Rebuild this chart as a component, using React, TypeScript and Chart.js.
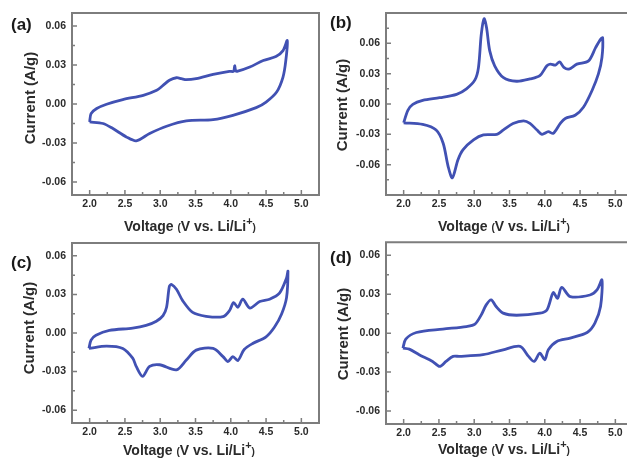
import React, { useEffect, useRef } from "react";
import { Chart, registerables } from "chart.js";

Chart.register(...registerables);

// ---------- data ----------
const xTicks = [2.0, 2.5, 3.0, 3.5, 4.0, 4.5, 5.0];
const yTicks = [-0.06, -0.03, 0.0, 0.03, 0.06];

const aVoltage = [2.0, 2.02, 2.1, 2.24, 2.47, 2.76, 2.95, 3.04, 3.13, 3.23, 3.3, 3.37, 3.51, 3.75, 3.98, 4.04, 4.055, 4.07, 4.1, 4.27, 4.46, 4.64, 4.74, 4.8, 4.78, 4.74, 4.65, 4.5, 4.36, 4.03, 3.75, 3.37, 3.09, 2.85, 2.66, 2.52, 2.33, 2.19, 2.0];
const aCurrent = [-0.0138, -0.0074, -0.0035, -0.0002, 0.0034, 0.0067, 0.0105, 0.0143, 0.0182, 0.0202, 0.0195, 0.0187, 0.0195, 0.0228, 0.0251, 0.0252, 0.0294, 0.0256, 0.0253, 0.0284, 0.0335, 0.0365, 0.0411, 0.0488, 0.0335, 0.0207, 0.0092, 0.0015, -0.0028, -0.0087, -0.012, -0.013, -0.0171, -0.0227, -0.0283, -0.0253, -0.0189, -0.015, -0.0138];

const bVoltage = [2.0, 2.06, 2.13, 2.27, 2.51, 2.75, 2.89, 3.01, 3.06, 3.1, 3.14, 3.175, 3.22, 3.29, 3.41, 3.6, 3.79, 3.93, 4.03, 4.08, 4.15, 4.21, 4.27, 4.34, 4.455, 4.62, 4.72, 4.79, 4.82, 4.81, 4.76, 4.67, 4.55, 4.43, 4.29, 4.22, 4.12, 4.05, 3.96, 3.89, 3.79, 3.7, 3.55, 3.41, 3.32, 3.13, 2.99, 2.84, 2.77, 2.69, 2.63, 2.56, 2.46, 2.27, 2.0];
const bCurrent = [-0.0186, -0.0062, -0.0003, 0.0036, 0.0062, 0.0095, 0.015, 0.0238, 0.036, 0.0688, 0.0844, 0.0753, 0.0525, 0.0378, 0.0264, 0.0225, 0.0248, 0.028, 0.0378, 0.0394, 0.0385, 0.0417, 0.0362, 0.0345, 0.0394, 0.0427, 0.0557, 0.0639, 0.0655, 0.046, 0.0297, 0.0134, -0.0029, -0.0111, -0.0143, -0.0192, -0.029, -0.0274, -0.03, -0.0258, -0.0192, -0.0166, -0.0192, -0.0258, -0.03, -0.0306, -0.0355, -0.0453, -0.0551, -0.073, -0.0616, -0.0388, -0.0258, -0.0202, -0.0186];

const cVoltage = [1.99, 2.02, 2.09, 2.28, 2.61, 2.8, 2.945, 3.04, 3.09, 3.13, 3.16, 3.23, 3.32, 3.46, 3.65, 3.89, 3.98, 4.04, 4.1, 4.17, 4.27, 4.41, 4.55, 4.69, 4.79, 4.81, 4.79, 4.72, 4.62, 4.5, 4.31, 4.19, 4.1, 4.03, 3.96, 3.89, 3.75, 3.51, 3.37, 3.23, 2.99, 2.85, 2.75, 2.66, 2.61, 2.47, 2.24, 1.99];
const cCurrent = [-0.012, -0.0056, -0.0018, 0.002, 0.0038, 0.0059, 0.0092, 0.0135, 0.02, 0.0364, 0.0377, 0.034, 0.025, 0.016, 0.013, 0.0127, 0.0173, 0.0237, 0.02, 0.0263, 0.0194, 0.0245, 0.0263, 0.031, 0.0428, 0.048, 0.0275, 0.0148, 0.0046, -0.003, -0.0082, -0.0128, -0.0214, -0.0184, -0.0222, -0.0184, -0.012, -0.0133, -0.021, -0.0286, -0.0247, -0.026, -0.0337, -0.026, -0.0196, -0.012, -0.0102, -0.012];

const dVoltage = [1.99, 2.03, 2.18, 2.555, 2.89, 3.01, 3.1, 3.17, 3.24, 3.31, 3.41, 3.6, 3.93, 4.03, 4.12, 4.18, 4.24, 4.36, 4.64, 4.74, 4.81, 4.79, 4.71, 4.6, 4.36, 4.17, 4.05, 4.0, 3.93, 3.85, 3.77, 3.65, 3.41, 3.125, 2.79, 2.7, 2.6, 2.51, 2.41, 2.22, 2.08, 1.99];
const dCurrent = [-0.0115, -0.0046, 0.0005, 0.0031, 0.0051, 0.0069, 0.0141, 0.0218, 0.0256, 0.0205, 0.0154, 0.0138, 0.0154, 0.0179, 0.0312, 0.0269, 0.0353, 0.0282, 0.0294, 0.0333, 0.041, 0.0205, 0.0077, 0.0005, -0.0038, -0.0064, -0.0128, -0.0205, -0.0154, -0.0218, -0.0179, -0.0102, -0.0128, -0.0166, -0.0179, -0.0179, -0.0218, -0.0256, -0.0218, -0.0166, -0.0123, -0.0115];

const panelLabels = ["(a)", "(b)", "(c)", "(d)"];
const yTitle = "Current (A/g)";

// ---------- styles ----------
const LINE = "#4151b3";
const FRAME = "#7d7d7d";
const TEXT = "#2b2b2b";
const FONT = "'Liberation Sans', Arial, sans-serif";

const framePlugin = {
  id: "frameTicks",
  afterDraw(chart: any) {
    const { ctx, chartArea } = chart;
    const xs = chart.scales.x;
    const ys = chart.scales.y;
    ctx.save();
    ctx.strokeStyle = FRAME;
    ctx.lineWidth = 2;
    ctx.beginPath();
    ctx.rect(chartArea.left, chartArea.top, chartArea.right - chartArea.left, chartArea.bottom - chartArea.top);
    ctx.stroke();
    ctx.lineWidth = 1.5;
    const xMin = xs.min, xMax = xs.max, yMin = ys.min, yMax = ys.max;
    const xStep = xTicks[1] - xTicks[0];
    const yStep = yTicks[1] - yTicks[0];
    ctx.beginPath();
    for (let i = -2; i < xTicks.length + 2; i++) {
      const v = xTicks[0] + i * xStep;
      const m = v + xStep / 2;
      if (v > xMin && v < xMax) {
        const p = xs.getPixelForValue(v);
        ctx.moveTo(p, chartArea.bottom);
        ctx.lineTo(p, chartArea.bottom - 5);
      }
      if (m > xMin && m < xMax) {
        const p = xs.getPixelForValue(m);
        ctx.moveTo(p, chartArea.bottom);
        ctx.lineTo(p, chartArea.bottom - 3);
      }
    }
    for (let i = -3; i < yTicks.length + 3; i++) {
      const v = yTicks[0] + i * yStep;
      const m = v + yStep / 2;
      if (v > yMin + 1e-9 && v < yMax - 1e-9) {
        const p = ys.getPixelForValue(v);
        ctx.moveTo(chartArea.left, p);
        ctx.lineTo(chartArea.left + 5, p);
      }
      if (m > yMin + 1e-9 && m < yMax - 1e-9) {
        const p = ys.getPixelForValue(m);
        ctx.moveTo(chartArea.left, p);
        ctx.lineTo(chartArea.left + 3, p);
      }
    }
    ctx.stroke();
    ctx.restore();
  },
};

type PanelProps = {
  voltage: number[];
  current: number[];
  yMax: number;
  left: number;
  top: number;
  width: number;
  height: number;
  padTop: number;
  padRight: number;
};

function CVPanel(p: PanelProps) {
  const ref = useRef<HTMLCanvasElement | null>(null);
  useEffect(() => {
    if (!ref.current) return;
    const pts = p.voltage.map((v, i) => ({ x: v, y: p.current[i] }));
    const tickFont = { family: FONT, size: 10.5, weight: "bold" as const };
    const chart = new Chart(ref.current, {
      type: "scatter",
      data: {
        datasets: [
          {
            data: pts,
            showLine: true,
            borderColor: LINE,
            backgroundColor: LINE,
            borderWidth: 2.8,
            pointRadius: 0,
            tension: 0.3,
            fill: false,
          },
        ],
      },
      options: {
        animation: false,
        responsive: false,
        maintainAspectRatio: false,
        layout: { padding: { top: p.padTop, right: p.padRight, left: 0, bottom: 0 } },
        plugins: { legend: { display: false }, tooltip: { enabled: false } },
        scales: {
          x: {
            type: "linear",
            min: 1.75,
            max: 5.25,
            afterBuildTicks: (s: any) => {
              s.ticks = xTicks.map((v) => ({ value: v }));
            },
            afterFit: (s: any) => {
              s.height = 40;
            },
            ticks: {
              font: tickFont,
              color: TEXT,
              padding: 3,
              maxRotation: 0,
              autoSkip: false,
              callback: (v: any) => Number(v).toFixed(1),
            },
            grid: { display: false, drawTicks: false },
            border: { display: false },
          },
          y: {
            type: "linear",
            min: -p.yMax,
            max: p.yMax,
            afterBuildTicks: (s: any) => {
              s.ticks = yTicks.map((v) => ({ value: v }));
            },
            afterFit: (s: any) => {
              s.width = 72;
            },
            ticks: {
              font: tickFont,
              color: TEXT,
              padding: 6,
              autoSkip: false,
              callback: (v: any) => Number(v).toFixed(2),
            },
            grid: { display: false, drawTicks: false },
            border: { display: false },
          },
        },
      },
      plugins: [framePlugin],
    });
    return () => chart.destroy();
  }, []);
  return (
    <canvas
      ref={ref}
      width={p.width}
      height={p.height}
      style={{ position: "absolute", left: p.left, top: p.top, width: p.width, height: p.height }}
    />
  );
}

function XTitle({ cx, cy }: { cx: number; cy: number }) {
  return (
    <div
      style={{
        position: "absolute",
        left: cx,
        top: cy,
        transform: "translate(-50%, -50%)",
        whiteSpace: "nowrap",
        fontFamily: FONT,
        fontWeight: "bold",
        fontSize: 14,
        color: TEXT,
        lineHeight: "16px",
      }}
    >
      Voltage <span style={{ fontSize: 10 }}>(</span>V vs. Li/Li<sup style={{ fontSize: 11, lineHeight: 0 }}>+</sup>
      <span style={{ fontSize: 10 }}>)</span>
    </div>
  );
}

function YTitle({ cx, cy }: { cx: number; cy: number }) {
  return (
    <div
      style={{
        position: "absolute",
        left: cx,
        top: cy,
        transform: "translate(-50%, -50%) rotate(-90deg)",
        whiteSpace: "nowrap",
        fontFamily: FONT,
        fontWeight: "bold",
        fontSize: 15,
        color: TEXT,
        lineHeight: "16px",
      }}
    >
      {yTitle}
    </div>
  );
}

function Label({ text, left, top }: { text: string; left: number; top: number }) {
  return (
    <div
      style={{
        position: "absolute",
        left,
        top,
        fontFamily: FONT,
        fontWeight: "bold",
        fontSize: 17,
        color: "#1a1a1a",
        lineHeight: "20px",
      }}
    >
      {text}
    </div>
  );
}

export default function App() {
  return (
    <div
      style={{
        position: "fixed",
        left: 0,
        top: 0,
        width: 627,
        height: 462,
        overflow: "hidden",
        background: "#fff",
      }}
    >
      <CVPanel voltage={aVoltage} current={aCurrent} yMax={0.07} left={0} top={0} width={330} height={235} padTop={13} padRight={11} />
      <CVPanel voltage={bVoltage} current={bCurrent} yMax={0.09} left={314} top={0} width={330} height={235} padTop={13} padRight={11} />
      <CVPanel voltage={cVoltage} current={cCurrent} yMax={0.07} left={0} top={230} width={330} height={233} padTop={13} padRight={11} />
      <CVPanel voltage={dVoltage} current={dCurrent} yMax={0.07} left={314} top={230} width={330} height={234} padTop={12} padRight={11} />

      <Label text={panelLabels[0]} left={11} top={15} />
      <Label text={panelLabels[1]} left={330} top={13} />
      <Label text={panelLabels[2]} left={11} top={253} />
      <Label text={panelLabels[3]} left={330} top={248} />

      <YTitle cx={30} cy={98} />
      <YTitle cx={342} cy={105} />
      <YTitle cx={29} cy={328} />
      <YTitle cx={343} cy={334} />

      <XTitle cx={190} cy={227} />
      <XTitle cx={504} cy={227} />
      <XTitle cx={189} cy={451} />
      <XTitle cx={504} cy={450} />
    </div>
  );
}
